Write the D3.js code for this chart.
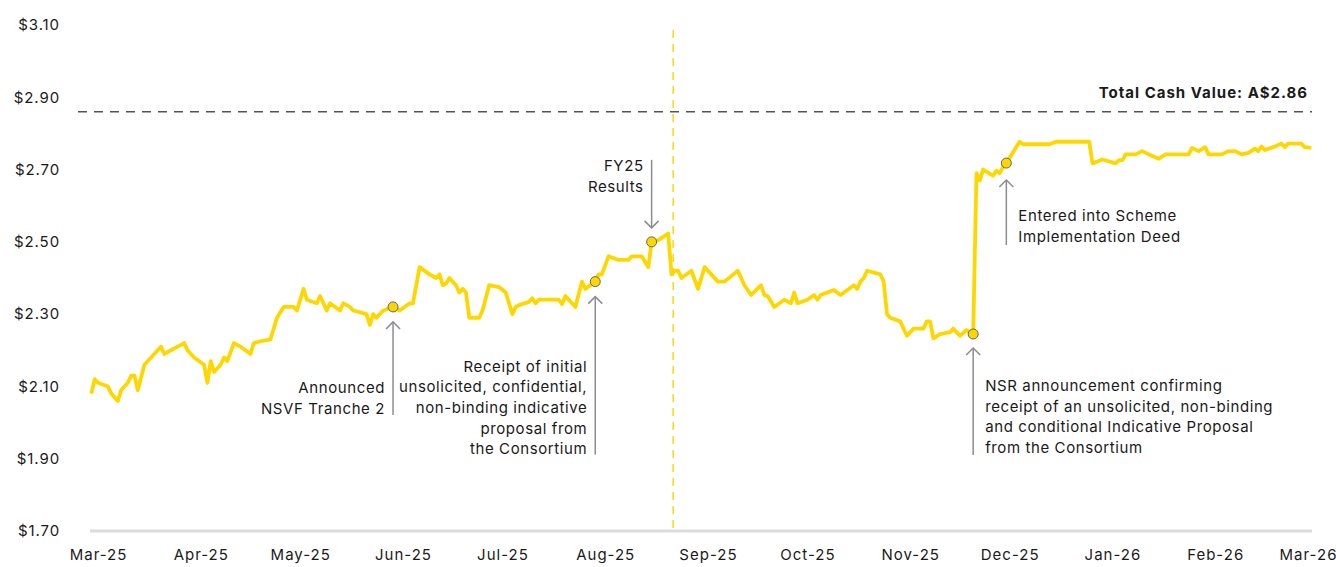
<!DOCTYPE html>
<html>
<head>
<meta charset="utf-8">
<script src="https://cdn.jsdelivr.net/npm/d3@7"></script>
<style>
  body { margin: 0; background: #fff; }
  text { font-family: Inter, "Open Sans", sans-serif; fill: #1a1a1a; }
</style>
</head>
<body>
<div id="chart"></div>
<script>

// share price
const dates = [
  "2025-02-27","2025-02-28","2025-03-01","2025-03-04","2025-03-05","2025-03-07","2025-03-08","2025-03-10","2025-03-11","2025-03-12",
  "2025-03-13","2025-03-15","2025-03-17","2025-03-20","2025-03-21","2025-03-23","2025-03-25","2025-03-27","2025-03-28","2025-03-30",
  "2025-04-02","2025-04-03","2025-04-04","2025-04-05","2025-04-07","2025-04-08","2025-04-09","2025-04-11","2025-04-13","2025-04-16",
  "2025-04-17","2025-04-19","2025-04-22","2025-04-24","2025-04-26","2025-04-29","2025-04-30","2025-05-02","2025-05-03","2025-05-06",
  "2025-05-07","2025-05-09","2025-05-10","2025-05-13","2025-05-14","2025-05-16","2025-05-17","2025-05-21","2025-05-22","2025-05-23",
  "2025-05-24","2025-05-26","2025-05-29","2025-05-31","2025-06-03","2025-06-04","2025-06-06","2025-06-09","2025-06-11","2025-06-12",
  "2025-06-13","2025-06-14","2025-06-15","2025-06-17","2025-06-18","2025-06-19","2025-06-20","2025-06-21","2025-06-24","2025-06-25",
  "2025-06-27","2025-06-30","2025-07-02","2025-07-04","2025-07-05","2025-07-06","2025-07-09","2025-07-10","2025-07-11","2025-07-12",
  "2025-07-18","2025-07-19","2025-07-20","2025-07-23","2025-07-25","2025-07-26","2025-07-29","2025-07-30","2025-07-31","2025-08-02",
  "2025-08-05","2025-08-08","2025-08-09","2025-08-12","2025-08-14","2025-08-15","2025-08-17","2025-08-20","2025-08-21","2025-08-22",
  "2025-08-23","2025-08-24","2025-08-27","2025-08-29","2025-08-31","2025-09-04","2025-09-06","2025-09-10","2025-09-12","2025-09-14",
  "2025-09-17","2025-09-18","2025-09-19","2025-09-21","2025-09-24","2025-09-26","2025-09-27","2025-09-28","2025-10-01","2025-10-03",
  "2025-10-04","2025-10-05","2025-10-09","2025-10-11","2025-10-15","2025-10-16","2025-10-17","2025-10-18","2025-10-19","2025-10-23",
  "2025-10-24","2025-10-25","2025-10-26","2025-10-29","2025-10-31","2025-11-02","2025-11-05","2025-11-06","2025-11-07","2025-11-08",
  "2025-11-10","2025-11-13","2025-11-14","2025-11-16","2025-11-18","2025-11-20","2025-11-21","2025-11-22","2025-11-23","2025-11-26",
  "2025-11-27","2025-11-28","2025-11-29","2025-11-30","2025-12-04","2025-12-05","2025-12-13","2025-12-15","2025-12-25","2025-12-26",
  "2025-12-29","2026-01-02","2026-01-03","2026-01-04","2026-01-05","2026-01-08","2026-01-10","2026-01-12","2026-01-15","2026-01-17",
  "2026-01-24","2026-01-25","2026-01-27","2026-01-29","2026-01-30","2026-02-03","2026-02-05","2026-02-07","2026-02-09","2026-02-11",
  "2026-02-13","2026-02-14","2026-02-15","2026-02-16","2026-02-19","2026-02-21","2026-02-22","2026-02-23","2026-02-27","2026-02-28",
  "2026-03-02"
];
const prices = [
  2.08,2.12,2.11,2.10,2.08,2.06,2.09,2.11,2.13,2.13,
  2.09,2.16,2.18,2.21,2.19,2.20,2.21,2.22,2.20,2.18,
  2.16,2.11,2.17,2.14,2.16,2.18,2.17,2.22,2.21,2.19,
  2.22,2.225,2.23,2.29,2.32,2.32,2.31,2.37,2.34,2.33,
  2.35,2.31,2.33,2.31,2.33,2.32,2.31,2.30,2.27,2.30,
  2.29,2.31,2.32,2.31,2.33,2.33,2.43,2.41,2.40,2.41,
  2.38,2.385,2.40,2.38,2.36,2.37,2.36,2.29,2.29,2.31,
  2.38,2.375,2.36,2.30,2.32,2.325,2.334,2.344,2.33,2.34,
  2.34,2.328,2.35,2.32,2.39,2.37,2.39,2.41,2.41,2.46,
  2.45,2.45,2.46,2.46,2.43,2.50,2.505,2.523,2.41,2.42,
  2.42,2.40,2.42,2.37,2.43,2.39,2.39,2.42,2.38,2.353,
  2.38,2.353,2.35,2.32,2.34,2.33,2.36,2.33,2.34,2.353,
  2.34,2.353,2.367,2.353,2.38,2.37,2.39,2.40,2.42,2.41,
  2.39,2.30,2.29,2.28,2.24,2.26,2.26,2.28,2.28,2.233,
  2.245,2.25,2.26,2.24,2.256,2.245,2.69,2.67,2.70,2.683,
  2.697,2.69,2.707,2.718,2.777,2.77,2.77,2.777,2.777,2.717,
  2.728,2.717,2.726,2.726,2.742,2.742,2.751,2.742,2.73,2.742,
  2.742,2.76,2.751,2.762,2.742,2.742,2.751,2.751,2.742,2.746,
  2.758,2.751,2.764,2.754,2.764,2.772,2.762,2.772,2.772,2.762,
  2.76
];

const yTicks = [1.70, 1.90, 2.10, 2.30, 2.50, 2.70, 2.90, 3.10];
const monthTicks = ["2025-03-01","2025-04-01","2025-05-01","2025-06-01","2025-07-01","2025-08-01","2025-09-01",
                    "2025-10-01","2025-11-01","2025-12-01","2026-01-01","2026-02-01","2026-03-01"];

const cashValue = 2.86;
const cashLabel = "Total Cash Value: A$2.86";
const splitDate = "2025-08-21T12:00";

// events marked on the line
const eventDates = ["2025-05-29","2025-07-29","2025-08-15","2025-11-20","2025-11-30"];
const eventLabels = [
  ["Announced", "NSVF Tranche 2"],
  ["Receipt of initial", "unsolicited, confidential,", "non-binding indicative", "proposal from", "the Consortium"],
  ["FY25", "Results"],
  ["NSR announcement confirming", "receipt of an unsolicited, non-binding", "and conditional Indicative Proposal", "from the Consortium"],
  ["Entered into Scheme", "Implementation Deed"]
];
// arrow placement for each event: arrow above/below the point, text side, lengths
const eventLayout = [
  {dir: "below", gap: 15, len: 93, side: "left",  textTop: 81},
  {dir: "below", gap: 15, len: 158, side: "left", textTop: 85},
  {dir: "above", gap: 14, len: 68, side: "left",  textTop: -76},
  {dir: "below", gap: 14, len: 107, side: "right", textTop: 52},
  {dir: "below", gap: 17, len: 65, side: "right", textTop: 53}
];

const W = 1336, H = 567;
const parse = d3.isoParse;

const svg = d3.select("#chart")
  .append("svg")
    .attr("width", W)
    .attr("height", H);

let x = d3.scaleTime()
    .domain([parse("2025-03-01"), parse("2026-03-01")])
    .range([98, 1308]);

let y = d3.scaleLinear()
    .domain([1.70, 3.10])
    .range([531, 25]);

const series = dates.map((d, i) => ({date: parse(d), value: prices[i]}));

// baseline
svg.append("line")
    .attr("x1", 90).attr("x2", 1312)
    .attr("y1", y(1.70)).attr("y2", y(1.70))
    .attr("stroke", "#dcdcdc")
    .attr("stroke-width", 3);

// y labels
const yAxis = g => g
    .attr("transform", "translate(60,0)")
    .call(d3.axisLeft(y).tickValues(yTicks).tickFormat(d3.format("$.2f")).tickSize(0).tickPadding(0))
    .call(g => g.select(".domain").remove())
    .call(g => g.selectAll("text").attr("font-size", 15).attr("fill", "#1a1a1a")
        .attr("letter-spacing", 0.9)
        .style("font-family", "Inter, sans-serif"));

// x labels
const xAxis = g => g
    .attr("transform", "translate(0,549)")
    .call(d3.axisBottom(x).tickValues(monthTicks.map(parse)).tickFormat(d3.timeFormat("%b-%y")).tickSize(0).tickPadding(0))
    .call(g => g.select(".domain").remove())
    .call(g => g.selectAll("text").attr("font-size", 15).attr("fill", "#1a1a1a")
        .attr("letter-spacing", 1)
        .style("font-family", "Inter, sans-serif"));

svg.append("g").call(yAxis);
svg.append("g").call(xAxis);

// total cash value line
svg.append("line")
    .attr("x1", 78).attr("x2", 1312)
    .attr("y1", y(cashValue)).attr("y2", y(cashValue))
    .attr("stroke", "#555")
    .attr("stroke-width", 1.5)
    .attr("stroke-dasharray", "9,7");

svg.append("text")
    .attr("x", 1308)
    .attr("y", y(cashValue) - 19)
    .attr("dy", "0.35em")
    .attr("text-anchor", "end")
    .attr("font-size", 15)
    .attr("font-weight", "bold")
    .attr("letter-spacing", 1)
    .text(cashLabel);

// split marker
svg.append("line")
    .attr("x1", x(parse(splitDate))).attr("x2", x(parse(splitDate)))
    .attr("y1", 30).attr("y2", y(1.70))
    .attr("stroke", "#ffd91a")
    .attr("stroke-width", 1.6)
    .attr("stroke-dasharray", "8,6");

// price line
const line = d3.line()
    .x(d => x(d.date))
    .y(d => y(d.value));

svg.append("path")
    .datum(series)
    .attr("fill", "none")
    .attr("stroke", "#ffd700")
    .attr("stroke-width", 3.8)
    .attr("stroke-linejoin", "round")
    .attr("d", line);

// annotations
const notes = eventDates.map((d, i) => {
  const date = parse(d);
  const pt = series.find(s => +s.date === +date);
  return {date, value: pt.value, lines: eventLabels[i], lay: eventLayout[i]};
});

const arrowCol = "#8c8c92";

notes.forEach(n => {
  const px = x(n.date), py = y(n.value);
  const L = n.lay;
  let head, tail;
  if (L.dir === "below") { head = py + L.gap; tail = head + L.len; }
  else { head = py - L.gap; tail = head - L.len; }

  svg.append("line")
      .attr("x1", px).attr("x2", px)
      .attr("y1", head).attr("y2", tail)
      .attr("stroke", arrowCol)
      .attr("stroke-width", 1.5);

  const s = L.dir === "below" ? 1 : -1;
  svg.append("path")
      .attr("d", `M${px - 7},${head + s * 7}L${px},${head}L${px + 7},${head + s * 7}`)
      .attr("fill", "none")
      .attr("stroke", arrowCol)
      .attr("stroke-width", 1.5);

  const tx = L.side === "left" ? px - 8 : px + 12;
  const t = svg.append("text")
      .attr("x", tx)
      .attr("y", py + L.textTop)
      .attr("text-anchor", L.side === "left" ? "end" : "start")
      .attr("font-size", 15)
      .attr("letter-spacing", 0.6);
  t.selectAll("tspan")
    .data(n.lines)
    .join("tspan")
      .attr("x", tx)
      .attr("dy", (d, i) => i === 0 ? "0.35em" : 20.6)
      .text(d => d);
});

// event dots
svg.append("g")
  .selectAll("circle")
  .data(notes)
  .join("circle")
    .attr("cx", d => x(d.date))
    .attr("cy", d => y(d.value))
    .attr("r", 5)
    .attr("fill", "#ffd700")
    .attr("stroke", "#666")
    .attr("stroke-width", 1);

</script>
</body>
</html>
